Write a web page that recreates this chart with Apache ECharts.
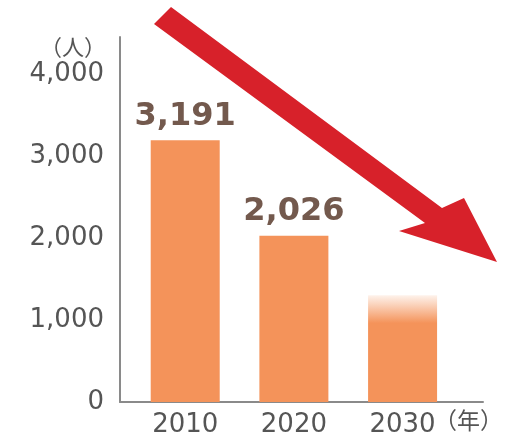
<!DOCTYPE html>
<html>
<head>
<meta charset="utf-8">
<script src="https://cdn.jsdelivr.net/npm/echarts@6/dist/echarts.min.js"></script>
<style>html,body{margin:0;padding:0;background:#fff}#c{width:525px;height:441px}</style>
</head>
<body>
<div id="c"></div>
<script>
const categories = ['2010', '2020', '2030'];
const values = [3191, 2026, 1300];
const valueLabels = ['3,191', '2,026', ''];
const yTicks = [0, 1000, 2000, 3000, 4000];
const yUnit = '（人）';
const xUnit = '（年）';

const BAR = '#f4935a';
const FONT = '"DejaVu Sans", "Noto Sans CJK JP", sans-serif';

const chart = echarts.init(document.getElementById('c'));
const data = categories.map((c, i) => {
  const item = { value: [Number(c), values[i]] };
  if (i === 2) {
    item.itemStyle = {
      color: new echarts.graphic.LinearGradient(0, 0, 0, 1, [
        { offset: 0, color: 'rgba(244,147,90,0.12)' },
        { offset: 0.1, color: 'rgba(244,147,90,0.45)' },
        { offset: 0.26, color: BAR },
        { offset: 1, color: BAR }
      ])
    };
  }
  return item;
});

chart.setOption({
  backgroundColor: '#fff',
  animation: false,
  grid: { left: 120, right: 42, top: 37, bottom: 39 },
  xAxis: {
    type: 'value',
    min: 2004,
    max: 2037.4,
    name: xUnit,
    nameLocation: 'end',
    nameMoveOverlap: false,
    nameGap: -49,
    nameTextStyle: { fontSize: 23, color: '#555', fontFamily: FONT, align: 'left', verticalAlign: 'top', padding: [10, 0, 0, 0] },
    axisLine: { show: true, lineStyle: { color: '#8a8a8a', width: 2 } },
    axisTick: { show: false },
    splitLine: { show: false },
    axisLabel: {
      customValues: categories.map(Number),
      formatter: v => String(v),
      fontSize: 26, color: '#555', fontFamily: FONT, margin: 10
    }
  },
  yAxis: {
    type: 'value',
    min: 0,
    max: 4450,
    name: yUnit,
    nameLocation: 'end',
    nameMoveOverlap: false,
    nameGap: -12,
    nameTextStyle: { fontSize: 22, color: '#555', fontFamily: FONT, align: 'right', verticalAlign: 'middle', padding: [0, 14, 0, 0] },
    axisLine: { show: true, lineStyle: { color: '#8a8a8a', width: 2 } },
    axisTick: { show: false },
    splitLine: { show: false },
    axisLabel: {
      customValues: yTicks,
      formatter: v => v.toLocaleString('en-US'),
      fontSize: 26, color: '#555', fontFamily: FONT, margin: 16
    }
  },
  series: [{
    type: 'bar',
    data: data,
    barWidth: 69,
    itemStyle: { color: BAR },
    label: {
      show: true,
      position: 'top',
      distance: 8,
      formatter: p => valueLabels[p.dataIndex],
      fontSize: 32,
      fontWeight: 'bold',
      color: '#73594d',
      fontFamily: FONT
    }
  }],
  graphic: [{
    type: 'polygon',
    z: 100,
    shape: {
      points: [[171, 7], [442, 208], [464, 198], [497, 262], [399, 231], [425, 223], [154, 24]]
    },
    style: { fill: '#d7212a' }
  }]
});
</script>
</body>
</html>
